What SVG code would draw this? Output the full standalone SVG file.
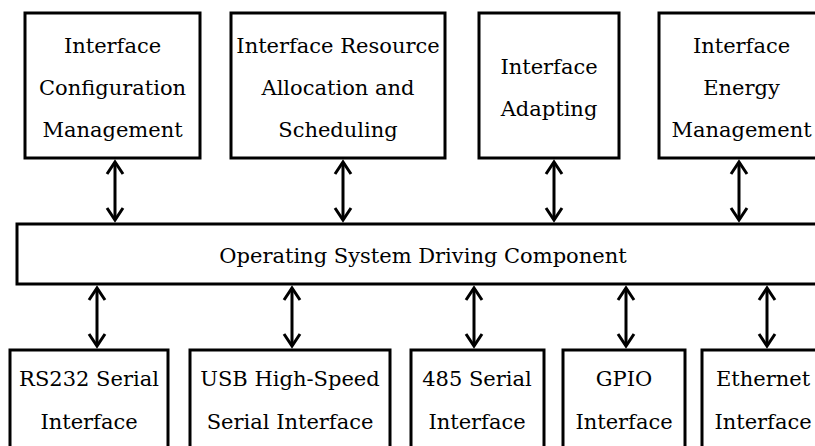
<svg xmlns="http://www.w3.org/2000/svg" width="815" height="446" viewBox="0 0 815 446">
  <style>
    .box { fill: #fff; stroke: #000; stroke-width: 3; }
    .lbl { font-family: "DejaVu Serif", "Liberation Serif", serif; font-size: 21px; fill: #000; text-anchor: middle; }
    .link { stroke: #000; stroke-width: 3; fill: none; marker-start: url(#head); marker-end: url(#head); }
  </style>
  <defs>
    <marker id="head" markerUnits="userSpaceOnUse" orient="auto-start-reverse" refX="0" refY="0" markerWidth="20" markerHeight="20" overflow="visible">
      <path d="M-12,-8 L0,0 L-12,8" fill="none" stroke="#000" stroke-width="3"/>
    </marker>
  </defs>

  <rect width="815" height="446" fill="#fff"/>

  <!-- upper management modules -->
  <g id="config-mgmt">
    <rect class="box" x="25" y="13" width="175" height="145"/>
    <text class="lbl" x="112.5" y="53">Interface</text>
    <text class="lbl" x="112.5" y="95">Configuration</text>
    <text class="lbl" x="112.5" y="137">Management</text>
  </g>
  <g id="resource-sched">
    <rect class="box" x="231" y="13" width="214" height="145"/>
    <text class="lbl" x="338" y="53">Interface Resource</text>
    <text class="lbl" x="338" y="95">Allocation and</text>
    <text class="lbl" x="338" y="137">Scheduling</text>
  </g>
  <g id="adapting">
    <rect class="box" x="479" y="13" width="140" height="145"/>
    <text class="lbl" x="549" y="74">Interface</text>
    <text class="lbl" x="549" y="116">Adapting</text>
  </g>
  <g id="energy-mgmt">
    <rect class="box" x="659" y="13" width="165" height="145"/>
    <text class="lbl" x="741.5" y="53">Interface</text>
    <text class="lbl" x="741.5" y="95">Energy</text>
    <text class="lbl" x="741.5" y="137">Management</text>
  </g>

  <!-- driver layer -->
  <g id="os-driver">
    <rect class="box" x="17" y="224" width="810" height="60"/>
    <text class="lbl" x="423" y="263">Operating System Driving Component</text>
  </g>

  <!-- hardware interfaces -->
  <g id="rs232">
    <rect class="box" x="10" y="350" width="158" height="110"/>
    <text class="lbl" x="89" y="386">RS232 Serial</text>
    <text class="lbl" x="89" y="429">Interface</text>
  </g>
  <g id="usb">
    <rect class="box" x="190" y="350" width="200" height="110"/>
    <text class="lbl" x="290" y="386">USB High-Speed</text>
    <text class="lbl" x="290" y="429">Serial Interface</text>
  </g>
  <g id="rs485">
    <rect class="box" x="411" y="350" width="133" height="110"/>
    <text class="lbl" x="477" y="386">485 Serial</text>
    <text class="lbl" x="477" y="429">Interface</text>
  </g>
  <g id="gpio">
    <rect class="box" x="563" y="350" width="122" height="110"/>
    <text class="lbl" x="624" y="386">GPIO</text>
    <text class="lbl" x="624" y="429">Interface</text>
  </g>
  <g id="ethernet">
    <rect class="box" x="702" y="350" width="125" height="110"/>
    <text class="lbl" x="763" y="386">Ethernet</text>
    <text class="lbl" x="763" y="429">Interface</text>
  </g>

  <!-- bidirectional links -->
  <g id="connectors">
    <line class="link" x1="115" y1="162" x2="115" y2="220"/>
    <line class="link" x1="343" y1="162" x2="343" y2="220"/>
    <line class="link" x1="554" y1="162" x2="554" y2="220"/>
    <line class="link" x1="739" y1="162" x2="739" y2="220"/>
    <line class="link" x1="97" y1="288" x2="97" y2="346"/>
    <line class="link" x1="292" y1="288" x2="292" y2="346"/>
    <line class="link" x1="474" y1="288" x2="474" y2="346"/>
    <line class="link" x1="626" y1="288" x2="626" y2="346"/>
    <line class="link" x1="767" y1="288" x2="767" y2="346"/>
  </g>
</svg>
